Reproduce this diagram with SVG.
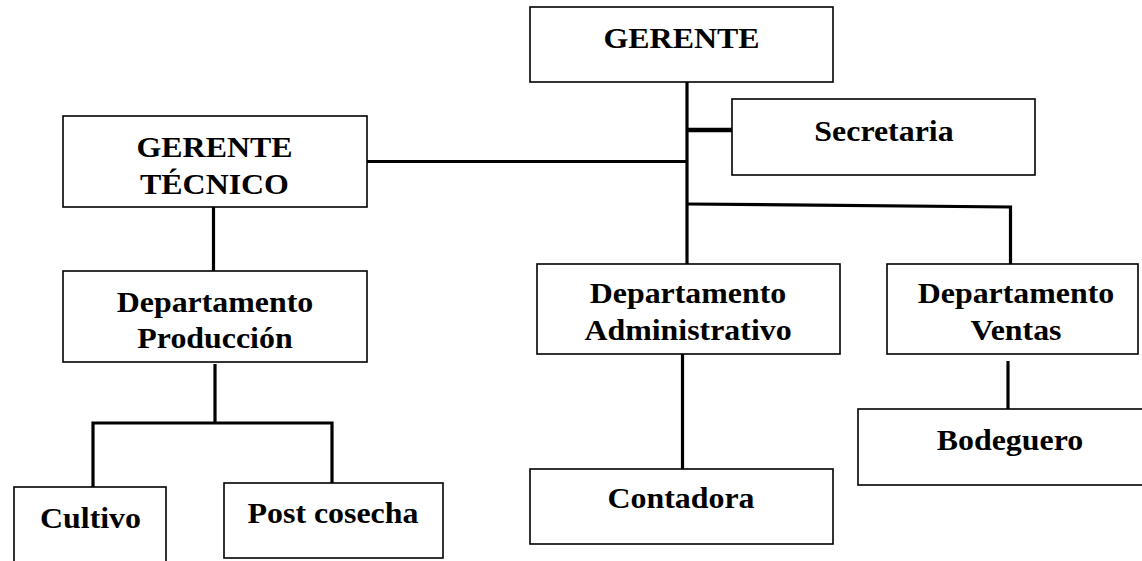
<svg xmlns="http://www.w3.org/2000/svg" width="1142" height="561" viewBox="0 0 1142 561">
<style>
.box{fill:#fff;stroke:#000;stroke-width:1.6}
.t{font-family:"Liberation Serif","Times New Roman",serif;font-weight:bold;font-size:29px;fill:#000;text-anchor:middle}
.c{fill:none;stroke:#000;stroke-width:3.2}
</style>
<rect width="1142" height="561" fill="#fff"/>
<g id="connectors">
<line class="c" x1="687" y1="82" x2="687" y2="264"/>
<line class="c" x1="687" y1="130" x2="732" y2="130" style="stroke-width:4.5"/>
<line class="c" x1="367" y1="161.5" x2="687" y2="161.5"/>
<polyline class="c" points="688,204 1010.5,207 1010.5,264"/>
<line class="c" x1="213.5" y1="207" x2="213.5" y2="271"/>
<line class="c" x1="215" y1="364" x2="215" y2="423"/>
<polyline class="c" points="93,487 93,423 332,423 332,483"/>
<line class="c" x1="682.5" y1="354" x2="682.5" y2="469"/>
<line class="c" x1="1008" y1="361" x2="1008" y2="409"/>
</g>
<g id="gerente">
<rect class="box" x="530" y="7" width="303" height="75"/>
<text class="t" transform="translate(681.5,48) scale(1.1,1)">GERENTE</text>
</g>
<g id="secretaria">
<rect class="box" x="732" y="99" width="303" height="76"/>
<text class="t" transform="translate(884,141) scale(1.1,1)">Secretaria</text>
</g>
<g id="gerente-tecnico">
<rect class="box" x="63" y="116" width="304" height="91"/>
<text class="t" transform="translate(214.5,157) scale(1.1,1)">GERENTE</text>
<text class="t" transform="translate(214.5,194) scale(1.1,1)">TÉCNICO</text>
</g>
<g id="dep-produccion">
<rect class="box" x="63" y="271" width="304" height="91"/>
<text class="t" transform="translate(215,312) scale(1.1,1)">Departamento</text>
<text class="t" transform="translate(215,348) scale(1.1,1)">Producción</text>
</g>
<g id="cultivo">
<rect class="box" x="14" y="487" width="152" height="90"/>
<text class="t" transform="translate(90.5,528) scale(1.1,1)">Cultivo</text>
</g>
<g id="post-cosecha">
<rect class="box" x="224" y="483" width="219" height="75"/>
<text class="t" transform="translate(333,523) scale(1.1,1)">Post cosecha</text>
</g>
<g id="dep-administrativo">
<rect class="box" x="537" y="264" width="303" height="90"/>
<text class="t" transform="translate(688,303) scale(1.1,1)">Departamento</text>
<text class="t" transform="translate(688,340) scale(1.1,1)">Administrativo</text>
</g>
<g id="contadora">
<rect class="box" x="530" y="469" width="303" height="75"/>
<text class="t" transform="translate(681,508) scale(1.1,1)">Contadora</text>
</g>
<g id="dep-ventas">
<rect class="box" x="887" y="264" width="251" height="90"/>
<text class="t" transform="translate(1016,303) scale(1.1,1)">Departamento</text>
<text class="t" transform="translate(1016,340) scale(1.1,1)">Ventas</text>
</g>
<g id="bodeguero">
<rect class="box" x="858" y="409" width="300" height="76"/>
<text class="t" transform="translate(1010,450) scale(1.1,1)">Bodeguero</text>
</g>
</svg>
